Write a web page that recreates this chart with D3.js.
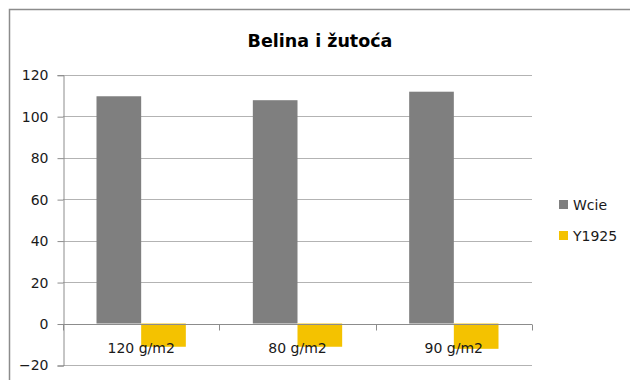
<!DOCTYPE html>
<html>
<head>
<meta charset="utf-8">
<script src="https://cdn.jsdelivr.net/npm/d3@7"></script>
<style>
  html, body { margin: 0; padding: 0; background: #fff; }
  svg { display: block; }
  text { font-family: "DejaVu Sans", sans-serif; fill: #1a1a1a; }
</style>
</head>
<body>
<svg id="chart" width="630" height="380"></svg>
<script>
// Chart data
const title = "Belina i žutoća";
const categories = ["120 g/m2", "80 g/m2", "90 g/m2"];
const seriesNames = ["Wcie", "Y1925"];
const wcieValues = [109.6, 107.7, 111.8];
const y1925Values = [-11.2, -11.2, -12.2];
const yTicks = [-20, 0, 20, 40, 60, 80, 100, 120];

const seriesColors = { "Wcie": "#7f7f7f", "Y1925": "#f4c200" };

const rows = categories.map((c, i) => ({
  category: c,
  values: [
    { series: "Wcie", value: wcieValues[i] },
    { series: "Y1925", value: y1925Values[i] }
  ]
}));

const svg = d3.select("#chart");

// Plot area
const plot = { left: 63, right: 532, top: 74.7, bottom: 365 };

// Outer chart frame
svg.append("rect")
  .attr("x", 9.5).attr("y", 9.5)
  .attr("width", 640).attr("height", 390)
  .attr("fill", "none")
  .attr("stroke", "#8c8c8c")
  .attr("stroke-width", 1.5);

// Title
svg.append("text")
  .attr("x", 320).attr("y", 47)
  .attr("text-anchor", "middle")
  .style("font-weight", "bold")
  .style("font-size", "17.5px")
  .style("fill", "#000")
  .text(title);

const y = d3.scaleLinear()
  .domain([d3.min(yTicks), d3.max(yTicks)])
  .range([plot.bottom, plot.top]);

const x0 = d3.scaleBand()
  .domain(categories)
  .range([plot.left, plot.right])
  .paddingInner(0).paddingOuter(0);

const x1 = d3.scaleBand()
  .domain(seriesNames)
  .range([0, x0.bandwidth()])
  .paddingInner(0).paddingOuter(0.75);

// Horizontal gridlines
svg.append("g")
  .selectAll("line")
  .data(yTicks)
  .join("line")
  .attr("x1", plot.left).attr("x2", plot.right)
  .attr("y1", d => Math.round(y(d)) + 0.5)
  .attr("y2", d => Math.round(y(d)) + 0.5)
  .attr("stroke", "#b3b3b3")
  .attr("stroke-width", 1);

// Value axis on the left
const yAxis = d3.axisLeft(y)
  .tickValues(yTicks)
  .tickSize(6)
  .tickPadding(9)
  .tickFormat(d3.format("d"));

const yAxisG = svg.append("g")
  .attr("transform", `translate(${plot.left + 0.5},0.5)`)
  .call(yAxis);
yAxisG.select(".domain").attr("stroke", "#8c8c8c");
yAxisG.selectAll(".tick line").attr("stroke", "#8c8c8c");
yAxisG.selectAll(".tick text")
  .style("font-size", "14px")
  .style("font-family", "'DejaVu Sans', sans-serif")
  .attr("fill", "#1a1a1a");

// Bars
const groups = svg.append("g")
  .selectAll("g")
  .data(rows)
  .join("g")
  .attr("transform", d => `translate(${x0(d.category)},0)`);

groups.selectAll("rect")
  .data(d => d.values)
  .join("rect")
  .attr("x", d => x1(d.series))
  .attr("width", x1.bandwidth())
  .attr("y", d => y(Math.max(0, d.value)))
  .attr("height", d => Math.abs(y(d.value) - y(0)))
  .attr("fill", d => seriesColors[d.series]);

// Category axis along zero, tick marks at category boundaries
const zeroY = Math.round(y(0)) + 0.5;
const axisG = svg.append("g");
axisG.append("line")
  .attr("x1", plot.left).attr("x2", plot.right)
  .attr("y1", zeroY).attr("y2", zeroY)
  .attr("stroke", "#8c8c8c");
const boundaries = categories.map(c => x0(c)).concat([plot.right]);
axisG.selectAll("line.bt")
  .data(boundaries)
  .join("line")
  .attr("class", "bt")
  .attr("x1", d => Math.round(d) + 0.5).attr("x2", d => Math.round(d) + 0.5)
  .attr("y1", zeroY).attr("y2", zeroY + 6)
  .attr("stroke", "#8c8c8c");

// Category labels
svg.append("g")
  .selectAll("text")
  .data(categories)
  .join("text")
  .attr("x", d => x0(d) + x0.bandwidth() / 2)
  .attr("y", 352.5)
  .attr("text-anchor", "middle")
  .style("font-size", "14px")
  .text(d => d);

// Legend
const legend = svg.append("g")
  .selectAll("g")
  .data(seriesNames)
  .join("g")
  .attr("transform", (d, i) => `translate(559,${200 + i * 31})`);
legend.append("rect")
  .attr("width", 9).attr("height", 9)
  .attr("fill", d => seriesColors[d]);
legend.append("text")
  .attr("x", 14).attr("y", 10)
  .style("font-size", "14px")
  .text(d => d);
</script>
</body>
</html>
